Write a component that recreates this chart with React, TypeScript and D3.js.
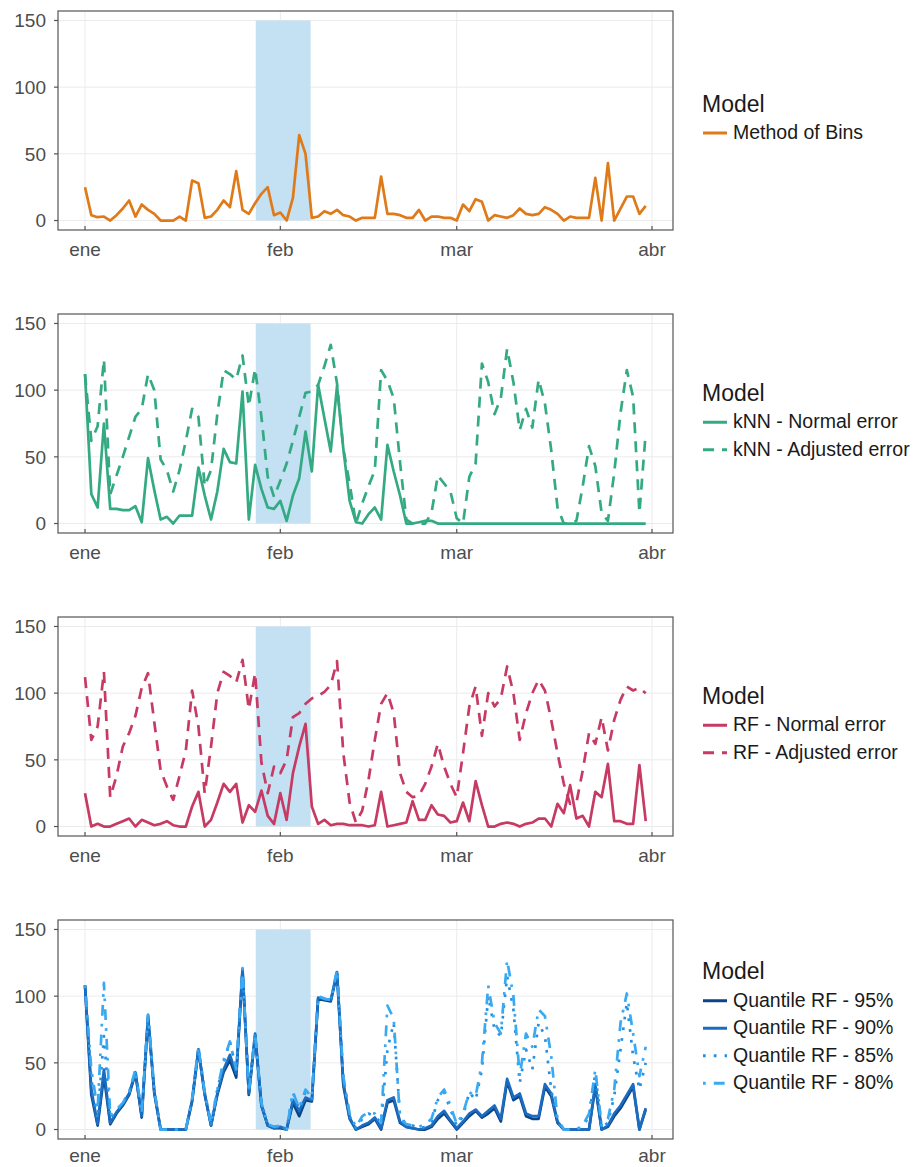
import React from "react";
import * as d3 from "d3";

// Daily series, 1 Jan 2021 .. 31 Mar 2021
const startDay = Date.UTC(2021, 0, 1);
const DAY = 86400000;

const methodOfBins = [
  25, 4, 2.5, 3, 0, 4, 9, 15, 3, 12,
  8, 5, 0, 0, 0, 3, 0, 30, 28, 2,
  3, 8, 15, 10, 37, 8, 5, 13, 20, 25,
  4, 6, 0, 17, 64, 50, 2, 3, 7, 5,
  8, 4, 3, 0, 2, 2, 2, 33, 5, 5,
  4, 2, 2, 8, 0, 3, 3, 2, 2, 0,
  12, 7, 16, 14, 0, 4, 3, 2, 4, 9,
  5, 4, 5, 10, 8, 5, 0, 3, 2, 2,
  2, 32, 0, 43, 0, 9, 18, 18, 5, 11,
];

const knnNormal = [
  112, 22, 12, 75, 11, 11, 10, 10, 13, 1,
  49, 25, 3, 5, 0, 6, 6, 6, 42, 21,
  3, 24, 56, 46, 45, 99, 3, 44, 26, 12,
  11, 17, 2, 21, 34, 69, 39, 104, 79, 54,
  103, 56, 17, 1, 0, 7, 12, 3, 59, 39,
  21, 0, 0, 1, 2, 2, 0, 0, 0, 0,
  0, 0, 0, 0, 0, 0, 0, 0, 0, 0,
  0, 0, 0, 0, 0, 0, 0, 0, 0, 0,
  0, 0, 0, 0, 0, 0, 0, 0, 0, 0,
];

const knnAdjusted = [
  112, 62, 73, 123, 22, 36, 50, 65, 80, 86,
  112, 100, 48, 40, 24, 40, 62, 86, 80, 28,
  40, 82, 115, 112, 108, 126, 88, 116, 80, 35,
  20, 32, 45, 62, 80, 98, 99, 104, 118, 134,
  105, 56, 30, 0, 15, 28, 40, 115, 107, 94,
  46, 3, 0, 0, 0, 8, 36, 30, 24, 4,
  0, 35, 45, 120, 106, 82, 94, 131, 106, 70,
  86, 72, 108, 90, 55, 12, 0, 0, 2, 28,
  58, 43, 8, 2, 38, 83, 115, 95, 8, 68,
];

const rfNormal = [
  25, 0, 2, 0, 0, 2, 4, 6, 0, 5,
  3, 1, 2, 4, 1, 0, 0, 15, 26, 0,
  5, 18, 32, 26, 32, 3, 16, 11, 27, 8,
  2, 25, 5, 40, 60, 77, 15, 2, 5, 1,
  2, 2, 1, 1, 1, 0, 1, 26, 0, 1,
  2, 3, 19, 5, 5, 16, 9, 8, 3, 4,
  18, 4, 34, 16, 0, 0, 2, 3, 2, 0,
  2, 3, 6, 6, 0, 17, 10, 31, 6, 8,
  0, 26, 22, 47, 4, 4, 2, 2, 46, 4,
];

const rfAdjusted = [
  112, 65, 75, 116, 22, 38, 60, 70, 83, 104,
  115, 78, 42, 30, 20, 38, 57, 102, 75, 25,
  60, 100, 116, 113, 108, 125, 88, 115, 48, 25,
  45, 40, 50, 82, 85, 92, 96, 98, 101, 106,
  124, 55, 18, 3, 12, 35, 65, 92, 100, 85,
  40, 26, 22, 23, 32, 45, 62, 45, 32, 22,
  55, 90, 105, 68, 100, 90, 96, 120, 100, 65,
  85, 100, 110, 102, 80, 55, 32, 17, 18, 42,
  70, 62, 82, 57, 80, 95, 105, 102, 104, 100,
];

const qrf95 = [
  108, 26, 3, 40, 4, 12, 18, 26, 42, 9,
  84, 27, 0, 0, 0, 0, 0, 21, 60, 26,
  3, 26, 43, 52, 39, 120, 26, 70, 18, 3,
  1, 1, 0, 20, 10, 22, 21, 98, 97, 96,
  117, 33, 8, 0, 2, 4, 8, 0, 20, 22,
  5, 2, 1, 0, 0, 2, 8, 12, 6, 0,
  5, 10, 14, 9, 12, 16, 6, 36, 22, 25,
  10, 8, 8, 32, 25, 5, 0, 0, 0, 0,
  0, 32, 0, 2, 10, 16, 24, 32, 0, 15,
];

const qrf90 = [
  108, 30, 4, 45, 5, 13, 19, 27, 43, 10,
  85, 28, 0, 0, 0, 0, 0, 22, 60, 27,
  3, 27, 45, 56, 42, 120, 27, 72, 18, 3,
  1, 2, 0, 22, 14, 24, 22, 99, 98, 97,
  118, 35, 9, 0, 3, 5, 9, 1, 22, 24,
  6, 2, 1, 0, 1, 3, 10, 14, 7, 1,
  6, 12, 15, 10, 14, 18, 8, 38, 24, 27,
  12, 10, 10, 34, 27, 6, 0, 0, 0, 0,
  0, 34, 0, 3, 12, 18, 26, 34, 0, 16,
];

const qrf85 = [
  108, 38, 8, 70, 8, 14, 20, 28, 44, 12,
  86, 30, 0, 0, 0, 0, 0, 23, 62, 28,
  4, 30, 50, 66, 45, 121, 28, 72, 20, 4,
  2, 3, 0, 28, 15, 28, 23, 100, 98, 97,
  118, 38, 10, 1, 8, 12, 10, 5, 60, 80,
  10, 4, 3, 1, 2, 6, 22, 28, 15, 3,
  10, 28, 22, 45, 100, 75, 70, 115, 90, 35,
  60, 45, 80, 70, 30, 5, 0, 0, 0, 2,
  10, 42, 2, 5, 25, 60, 95, 55, 30, 50,
];

const qrf80 = [
  108, 45, 15, 110, 10, 15, 20, 28, 45, 12,
  86, 30, 0, 0, 0, 0, 0, 23, 62, 28,
  4, 30, 52, 66, 45, 121, 28, 72, 20, 4,
  2, 3, 0, 28, 16, 30, 24, 100, 98, 97,
  120, 40, 12, 2, 10, 13, 12, 5, 93, 83,
  8, 4, 3, 2, 4, 8, 24, 30, 18, 4,
  12, 28, 25, 50, 108, 80, 72, 127, 100, 40,
  72, 62, 90, 85, 55, 8, 0, 0, 0, 3,
  12, 45, 3, 8, 30, 80, 102, 72, 40, 62,
];

// Highlighted period (shaded band), in days after 1 Jan
const highlightStartDay = 27.1;
const highlightEndDay = 35.8;

const yTicks = [0, 50, 100, 150];
const monthTickLabels = ["ene", "feb", "mar", "abr"];

const FONT = "'Liberation Sans', Arial, Helvetica, sans-serif";
const LW = 2.7;
const DASHED = "11,8";
const DOTTED = `${LW},${LW * 3}`;
const DOTDASH = `${LW},${LW * 3},${LW * 4},${LW * 3}`;

type Series = { label: string; values: number[]; color: string; dash?: string };

const panels: Series[][] = [
  [{ label: "Method of Bins", values: methodOfBins, color: "#df7a18" }],
  [
    { label: "kNN - Normal error", values: knnNormal, color: "#34aa83" },
    { label: "kNN - Adjusted error", values: knnAdjusted, color: "#34aa83", dash: DASHED },
  ],
  [
    { label: "RF - Normal error", values: rfNormal, color: "#c63a63" },
    { label: "RF - Adjusted error", values: rfAdjusted, color: "#c63a63", dash: DASHED },
  ],
  [
    { label: "Quantile RF - 95%", values: qrf95, color: "#0c4585" },
    { label: "Quantile RF - 90%", values: qrf90, color: "#1b6cc0" },
    { label: "Quantile RF - 85%", values: qrf85, color: "#2590e2", dash: DOTTED },
    { label: "Quantile RF - 80%", values: qrf80, color: "#39a9f2", dash: DOTDASH },
  ],
];

const W = 924;
const H = 1167;
const PLOT_LEFT = 58;
const PLOT_RIGHT = 673;
const PANEL_TOP0 = 11;
const PANEL_STEP = 303;
const PANEL_H = 219;

const dayDate = (d: number) => new Date(startDay + d * DAY);
const days = d3.range(90).map((i) => dayDate(i));

const x = d3
  .scaleUtc()
  .domain([dayDate(-4.29), dayDate(93.33)])
  .range([PLOT_LEFT, PLOT_RIGHT]);

const monthTicks = d3.utcMonth.range(dayDate(0), dayDate(91));

function Panel({ series, index }: { series: Series[]; index: number }) {
  const top = PANEL_TOP0 + index * PANEL_STEP;
  const bottom = top + PANEL_H;
  const y = d3.scaleLinear().domain([-7.1, 157.1]).range([bottom, top]);
  const line = d3
    .line<number>()
    .x((_, i) => x(days[i]))
    .y((v) => y(v));

  const center = top + PANEL_H / 2;
  const itemGap = 27.5;
  const titleY = center - 9 - (series.length - 1) * (itemGap / 2);
  const labelY = Math.min(bottom + 26, H - 5);

  return (
    <g>
      {/* grid */}
      {yTicks.map((t) => (
        <line key={"gy" + t} x1={PLOT_LEFT} x2={PLOT_RIGHT} y1={y(t)} y2={y(t)} stroke="#ebebeb" strokeWidth={1} />
      ))}
      {monthTicks.map((m, i) => (
        <line key={"gx" + i} x1={x(m)} x2={x(m)} y1={top} y2={bottom} stroke="#ebebeb" strokeWidth={1} />
      ))}
      {/* highlighted period */}
      <rect
        x={x(dayDate(highlightStartDay))}
        width={x(dayDate(highlightEndDay)) - x(dayDate(highlightStartDay))}
        y={y(150)}
        height={y(0) - y(150)}
        fill="#c4e0f3"
      />
      {/* series */}
      {series.map((s, i) => (
        <path
          key={"s" + i}
          d={line(s.values) || ""}
          fill="none"
          stroke={s.color}
          strokeWidth={LW}
          strokeDasharray={s.dash}
          strokeLinejoin="round"
        />
      ))}
      {/* frame */}
      <rect x={PLOT_LEFT} y={top} width={PLOT_RIGHT - PLOT_LEFT} height={PANEL_H} fill="none" stroke="#555" strokeWidth={1.2} />
      {/* y axis */}
      {yTicks.map((t) => (
        <g key={"yt" + t}>
          <line x1={PLOT_LEFT - 4} x2={PLOT_LEFT} y1={y(t)} y2={y(t)} stroke="#555" strokeWidth={1.2} />
          <text x={46} y={y(t)} dy="0.36em" textAnchor="end" fontSize={19} fill="#4d4d4d" fontFamily={FONT}>
            {t}
          </text>
        </g>
      ))}
      {/* x axis */}
      {monthTicks.map((m, i) => (
        <g key={"xt" + i}>
          <line x1={x(m)} x2={x(m)} y1={bottom - 4} y2={bottom} stroke="#555" strokeWidth={1.2} />
          <text x={x(m)} y={labelY} textAnchor="middle" fontSize={19} fill="#4d4d4d" fontFamily={FONT}>
            {monthTickLabels[i]}
          </text>
        </g>
      ))}
      {/* legend */}
      <text x={702} y={titleY} fontSize={23} fill="#1a1a1a" fontFamily={FONT}>
        Model
      </text>
      {series.map((s, i) => {
        const by = titleY + itemGap * (i + 1);
        return (
          <g key={"lg" + i}>
            <line x1={703} x2={727} y1={by - 6} y2={by - 6} stroke={s.color} strokeWidth={3} strokeDasharray={s.dash} />
            <text x={733} y={by} fontSize={19.5} fill="#1a1a1a" fontFamily={FONT}>
              {s.label}
            </text>
          </g>
        );
      })}
    </g>
  );
}

export default function App() {
  return (
    <svg
      width={W}
      height={H}
      viewBox={`0 0 ${W} ${H}`}
      style={{ position: "absolute", left: 0, top: 0, background: "#fff" }}
    >
      <rect width={W} height={H} fill="#fff" />
      {panels.map((s, i) => (
        <Panel key={i} series={s} index={i} />
      ))}
    </svg>
  );
}
